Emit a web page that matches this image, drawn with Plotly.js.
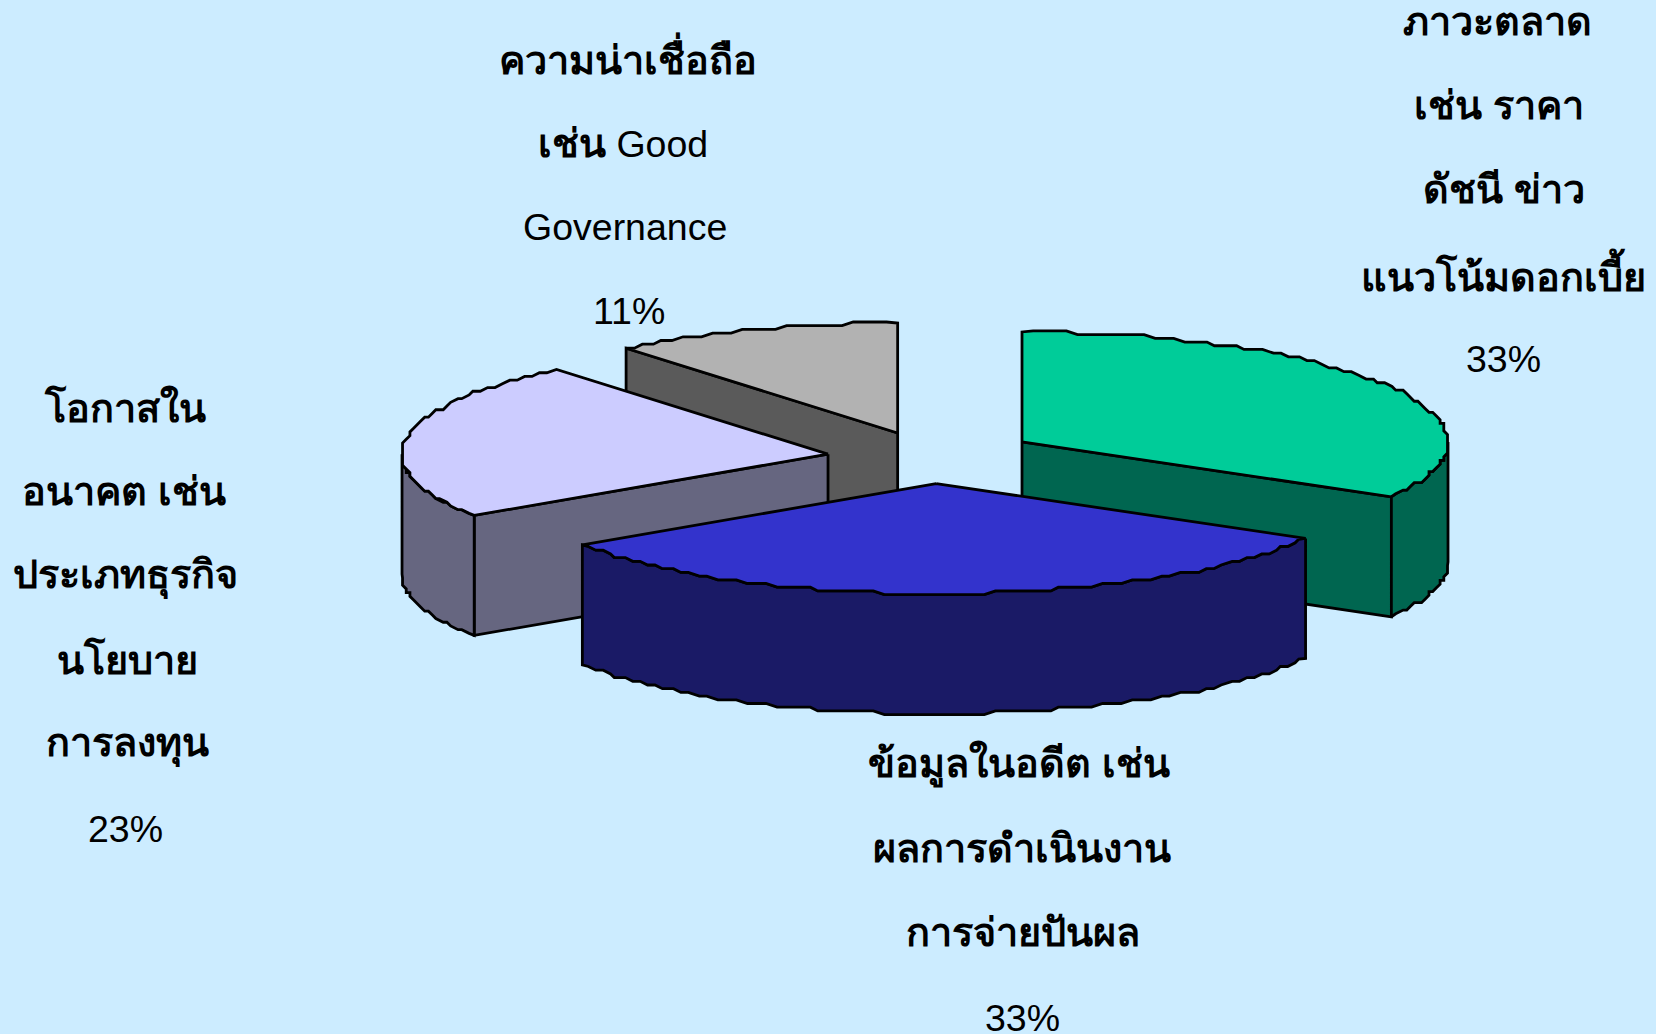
<!DOCTYPE html>
<html>
<head>
<meta charset="utf-8">
<script src="https://cdn.plot.ly/plotly-3.0.1.min.js"></script>
<style>html,body{margin:0;padding:0;background:#ccecff}#chart{width:1656px;height:1034px}</style>
</head>
<body>
<div id="chart"></div>
<script>
// Data
const categories = ["ภาวะตลาด", "ข้อมูลในอดีต", "โอกาสในอนาคต", "ความน่าเชื่อถือ"];
const values = [33.3, 32.3, 23.4, 11.0];
const percentLabels = ["33%", "33%", "23%", "11%"];
const labelLines = [
  ["ภาวะตลาด", "เช่น ราคา", "ดัชนี ข่าว", "แนวโน้มดอกเบี้ย"],
  ["ข้อมูลในอดีต เช่น", "ผลการดำเนินงาน", "การจ่ายปันผล"],
  ["โอกาสใน", "อนาคต เช่น", "ประเภทธุรกิจ", "นโยบาย", "การลงทุน"],
  ["ความน่าเชื่อถือ", "เช่น Good", "Governance"]
];
// Explosion of each slice, across and along the tilted pie
const pullsX = [0.2414, 0.217, 0.249, 0.245];
const pullsY = [0.273, 0.242, 0.18, 0.232];
// Styles
const topColors = ["#00cc99", "#3333cc", "#ccccff", "#b2b2b2"];
const sideColors = ["#006650", "#1a1a66", "#666680", "#5a5a5a"];
const bg = "#ccecff";
// Pie geometry on the page's axes
const cx = 933, cy = 457, rx = 426, ry = 110, depth = 120, grid = 3.7;
const labelX = [1503, 1022, 125, 625];
const labelY = [23, 766, 409, 59];
const lineNudgeX = [[-6, -4, 1, 0, 0], [-3, 0, 1, 0], [0, -1, 0, 2, 2, 0], [3, -2, 0, 4]];
const thaiNudgeY = -2;
const lineGap = 84;
const fontSize = 37.5, thaiSize = 39.6;
const drawOrder = [3, 2, 0, 1];

const total = values.reduce((a, b) => a + b, 0);
const rad = d => d * Math.PI / 180;
const snap = v => Math.round(v / grid) * grid;
let acc = 0;
const slices = values.map((v, i) => {
  const a0 = acc / total * 360; acc += v; const a1 = acc / total * 360;
  const mid = rad((a0 + a1) / 2);
  return {a0, a1, ox: cx + pullsX[i] * rx * Math.sin(mid), oy: cy - pullsY[i] * ry * Math.cos(mid)};
});
function arc(s, a0, a1, dz) {
  const pts = [];
  const n = Math.max(2, Math.round((a1 - a0) / 1.5));
  for (let k = 0; k <= n; k++) {
    const t = rad(a0 + (a1 - a0) * k / n);
    let x = rx * Math.sin(t), y = -ry * Math.cos(t);
    if (k > 0 && k < n) { x = snap(x); y = snap(y); }
    pts.push([s.ox + x, s.oy + y + dz]);
  }
  return pts;
}
const traces = [];
function poly(pts, color) {
  const closed = pts.concat([pts[0]]);
  traces.push({type: "scatter", mode: "lines", x: closed.map(p => p[0]), y: closed.map(p => p[1]),
    fill: "toself", fillcolor: color, line: {color: "#000", width: 2.8, simplify: false}, hoverinfo: "skip", showlegend: false});
}
function radial(s, a, color) {
  const e = arc(s, a, a, 0)[0];
  poly([[s.ox, s.oy], e, [e[0], e[1] + depth], [s.ox, s.oy + depth]], color);
}
drawOrder.forEach(i => {
  const s = slices[i];
  if (s.a0 > 180) radial(s, s.a0, sideColors[i]);
  if (s.a1 < 180) radial(s, s.a1, sideColors[i]);
  const lo = Math.max(s.a0, 90), hi = Math.min(s.a1, 270);
  if (hi > lo) {
    const up = arc(s, lo, hi, 0), dn = arc(s, lo, hi, depth).reverse();
    poly(up.concat(dn), sideColors[i]);
  }
  poly([[s.ox, s.oy]].concat(arc(s, s.a0, s.a1, 0)), topColors[i]);
});
const thaiRuns = /[\u0E00-\u0E7F]+/g;
const annotations = [];
labelLines.forEach((lines, i) => {
  lines.concat([percentLabels[i]]).forEach((t, j) => {
    const isThaiOnly = !/[A-Za-z0-9%]/.test(t);
    annotations.push({
      x: labelX[i] + lineNudgeX[i][j], y: labelY[i] + j * lineGap + (isThaiOnly ? thaiNudgeY : 0),
      text: isThaiOnly ? "<b>" + t + "</b>" : t.replace(thaiRuns, m => '<span style="font-size:' + thaiSize + 'px"><b>' + m + "</b></span>"),
      showarrow: false, xanchor: "center", yanchor: "middle",
      font: {family: "Liberation Sans, Arial, sans-serif", size: isThaiOnly ? thaiSize : fontSize, color: "#000"}});
  });
});
Plotly.newPlot("chart", traces, {
  width: 1656, height: 1034, margin: {l: 0, r: 0, t: 0, b: 0},
  paper_bgcolor: bg, plot_bgcolor: bg, showlegend: false,
  xaxis: {range: [0, 1656], visible: false, fixedrange: true},
  yaxis: {range: [1034, 0], visible: false, fixedrange: true},
  annotations
}, {displayModeBar: false, staticPlot: true});
</script>
</body>
</html>
